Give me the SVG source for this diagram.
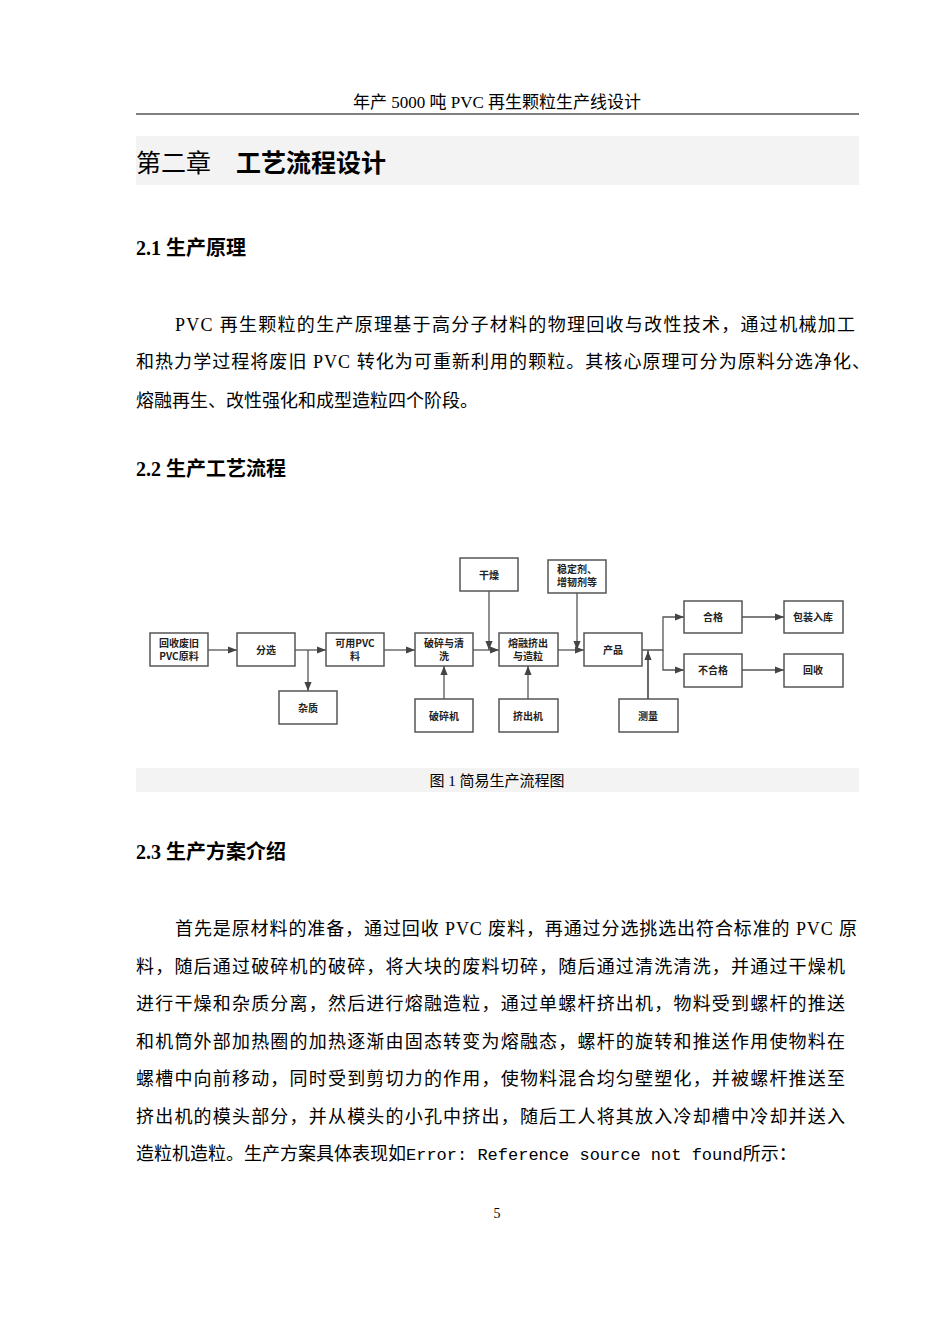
<svg xmlns="http://www.w3.org/2000/svg" width="950" height="1344" viewBox="0 0 950 1344">
<style>
.s{font-family:"Liberation Serif","Noto Sans CJK SC",serif;fill:#000}
.b{font-size:18px}
.h{font-size:20px;font-weight:bold}
.n rect{fill:#fff;stroke:#555;stroke-width:1.5}
.n text{font-family:"Noto Sans CJK SC","Liberation Sans",sans-serif;font-size:10px;fill:#222;text-anchor:middle;font-weight:bold}
.c path{fill:none;stroke:#555;stroke-width:1.3}
</style>
<defs><marker id="a" viewBox="0 0 10 10" refX="10" refY="5" markerWidth="7" markerHeight="7" orient="auto"><path d="M0,1L10,5L0,9z" fill="#444"/></marker></defs>
<rect width="950" height="1344" fill="#fff"/>
<text class="s" x="497" y="108" font-size="17" text-anchor="middle">年产 5000 吨 PVC 再生颗粒生产线设计</text>
<line x1="136" y1="114" x2="859" y2="114" stroke="#000" stroke-width="1.2"/>
<rect x="136" y="136" width="723" height="49" fill="#f3f3f3"/>
<text class="s" x="136" y="172" font-size="25">第二章　<tspan font-weight="bold">工艺流程设计</tspan></text>
<text class="s h" x="136" y="255">2.1 生产原理</text>
<text class="s b" x="175" y="331" textLength="680">PVC 再生颗粒的生产原理基于高分子材料的物理回收与改性技术，通过机械加工</text>
<text class="s b" x="136" y="368" textLength="734">和热力学过程将废旧 PVC 转化为可重新利用的颗粒。其核心原理可分为原料分选净化、</text>
<text class="s b" x="136" y="407">熔融再生、改性强化和成型造粒四个阶段。</text>
<text class="s h" x="136" y="476">2.2 生产工艺流程</text>
<g class="c">
<path d="M208,650H237" marker-end="url(#a)"/>
<path d="M295,650H326" marker-end="url(#a)"/>
<path d="M308,650V691" marker-end="url(#a)"/>
<path d="M384,650H415" marker-end="url(#a)"/>
<path d="M473,650H499" marker-end="url(#a)"/>
<path d="M489,591V650" marker-end="url(#a)"/>
<path d="M444,699V666" marker-end="url(#a)"/>
<path d="M558,650H584" marker-end="url(#a)"/>
<path d="M577,593V650" marker-end="url(#a)"/>
<path d="M528,699V666" marker-end="url(#a)"/>
<path d="M648,699V650"/>
<path d="M648,650V650"/>
<path d="M642,650H663V617H684" marker-end="url(#a)"/>
<path d="M663,650V670H684" marker-end="url(#a)"/>
<path d="M648,699V651" marker-end="url(#a)"/>
<path d="M742,617H784" marker-end="url(#a)"/>
<path d="M742,670H784" marker-end="url(#a)"/>
</g>
<g class="n">
<g id="n1"><rect x="150" y="633" width="58" height="33"/><text x="179" y="647">回收废旧</text><text x="179" y="660">PVC原料</text></g>
<g id="n2"><rect x="237" y="633" width="58" height="33"/><text x="266" y="654">分选</text></g>
<g id="n3"><rect x="326" y="633" width="58" height="33"/><text x="355" y="647">可用PVC</text><text x="355" y="660">料</text></g>
<g id="n4"><rect x="415" y="633" width="58" height="33"/><text x="444" y="647">破碎与清</text><text x="444" y="660">洗</text></g>
<g id="n5"><rect x="279" y="691" width="58" height="33"/><text x="308" y="712">杂质</text></g>
<g id="n6"><rect x="415" y="699" width="58" height="33"/><text x="444" y="720">破碎机</text></g>
<g id="n7"><rect x="460" y="558" width="58" height="33"/><text x="489" y="579">干燥</text></g>
<g id="n8"><rect x="499" y="633" width="59" height="33"/><text x="528" y="647">熔融挤出</text><text x="528" y="660">与造粒</text></g>
<g id="n9"><rect x="548" y="560" width="58" height="33"/><text x="577" y="573">稳定剂、</text><text x="577" y="586">增韧剂等</text></g>
<g id="n10"><rect x="499" y="699" width="59" height="33"/><text x="528" y="720">挤出机</text></g>
<g id="n11"><rect x="584" y="633" width="58" height="33"/><text x="613" y="654">产品</text></g>
<g id="n12"><rect x="619" y="699" width="59" height="33"/><text x="648" y="720">测量</text></g>
<g id="n13"><rect x="684" y="601" width="58" height="32"/><text x="713" y="621">合格</text></g>
<g id="n14"><rect x="684" y="654" width="58" height="33"/><text x="713" y="674">不合格</text></g>
<g id="n15"><rect x="784" y="601" width="59" height="32"/><text x="813" y="621">包装入库</text></g>
<g id="n16"><rect x="784" y="654" width="59" height="33"/><text x="813" y="674">回收</text></g>
</g>
<rect x="136" y="768" width="723" height="24" fill="#f3f3f3"/>
<text class="s" x="497" y="786" font-size="15" text-anchor="middle">图 1  简易生产流程图</text>
<text class="s h" x="136" y="859">2.3 生产方案介绍</text>
<g class="s b">
<text x="175" y="935" textLength="682">首先是原材料的准备，通过回收 PVC 废料，再通过分选挑选出符合标准的 PVC 原</text>
<text x="136" y="973" textLength="709">料，随后通过破碎机的破碎，将大块的废料切碎，随后通过清洗清洗，并通过干燥机</text>
<text x="136" y="1010" textLength="709">进行干燥和杂质分离，然后进行熔融造粒，通过单螺杆挤出机，物料受到螺杆的推送</text>
<text x="136" y="1048" textLength="709">和机筒外部加热圈的加热逐渐由固态转变为熔融态，螺杆的旋转和推送作用使物料在</text>
<text x="136" y="1085" textLength="709">螺槽中向前移动，同时受到剪切力的作用，使物料混合均匀壁塑化，并被螺杆推送至</text>
<text x="136" y="1123" textLength="709">挤出机的模头部分，并从模头的小孔中挤出，随后工人将其放入冷却槽中冷却并送入</text>
<text x="136" y="1160">造粒机造粒。生产方案具体表现如<tspan font-family="Liberation Mono,monospace" font-size="17">Error: Reference source not found</tspan>所示：</text>
</g>
<text class="s" x="497" y="1218" font-size="14" text-anchor="middle">5</text>
</svg>
